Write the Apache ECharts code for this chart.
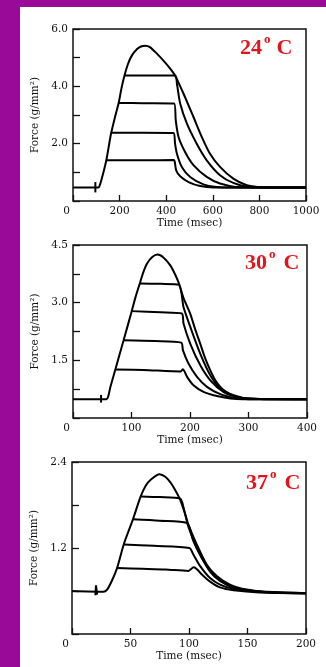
<!DOCTYPE html>
<html>
<head>
<meta charset="utf-8">
<script src="https://cdn.jsdelivr.net/npm/echarts@6/dist/echarts.min.js"></script>
<style>
  html, body { margin: 0; padding: 0; width: 326px; height: 667px; overflow: hidden; background: #990a99; }
  #panel { position: absolute; left: 20px; top: 7px; right: 0; bottom: 0; background: #ffffff; }
  #chart { position: absolute; left: 0; top: 0; width: 326px; height: 667px; }
</style>
</head>
<body>
<div id="panel"></div>
<div id="chart"></div>
<script>
// ---- 24 °C traces: [time (msec), force (g/mm²)] ----
const stim24 = [[96, 0.30], [96, 0.66]];
const full24 = [[0, 0.47], [110, 0.47], [115, 0.55], [120, 0.68], [131, 1.01], [143, 1.42], [153, 1.88], [164, 2.38],
  [180, 2.92], [196, 3.42], [208, 3.93], [221, 4.38], [236, 4.78], [253, 5.08], [275, 5.30], [292, 5.39], [310, 5.42],
  [330, 5.37], [360, 5.14], [390, 4.88], [417, 4.62], [438, 4.38], [474, 3.75], [517, 2.93], [553, 2.23], [588, 1.65],
  [631, 1.19], [688, 0.78], [746, 0.55], [803, 0.48], [860, 0.47], [1000, 0.47]];
const clamp24a = [[143, 1.42], [300, 1.42], [432, 1.43], [436, 1.40], [443, 1.07], [460, 0.86], [496, 0.66], [546, 0.52],
  [603, 0.47], [1000, 0.47]];
const clamp24b = [[164, 2.38], [300, 2.38], [431, 2.37], [438, 2.00], [446, 1.65], [467, 1.19], [503, 0.84], [560, 0.58],
  [617, 0.49], [680, 0.47], [1000, 0.47]];
const clamp24c = [[196, 3.42], [300, 3.41], [434, 3.40], [441, 2.81], [453, 2.23], [481, 1.71], [517, 1.25], [574, 0.84],
  [631, 0.61], [717, 0.48], [1000, 0.47]];
const clamp24d = [[221, 4.38], [300, 4.38], [438, 4.38], [446, 4.09], [460, 3.40], [489, 2.70], [531, 2.00], [574, 1.42],
  [631, 0.90], [688, 0.63], [760, 0.49], [1000, 0.47]];

// ---- 30 °C traces ----
const stim30 = [[48, 0.40], [48, 0.60]];
const full30 = [[0, 0.49], [57, 0.49], [60, 0.55], [64, 0.81], [72, 1.24], [79, 1.62], [86.5, 2.02], [100, 2.76],
  [107, 3.15], [114, 3.49], [120, 3.78], [126.4, 4.01], [135, 4.18], [144.7, 4.25], [155, 4.17], [166.3, 3.97],
  [175, 3.72], [181, 3.50], [189, 3.12], [200.5, 2.71], [209, 2.30], [217.6, 1.93], [226, 1.55], [234.7, 1.24],
  [243, 0.99], [251.8, 0.81], [262, 0.68], [274.6, 0.59], [290, 0.53], [303, 0.51], [330, 0.49], [400, 0.49]];
const clamp30a = [[72, 1.26], [120, 1.25], [184, 1.21], [188, 1.27], [191, 1.20], [195, 1.07], [206, 0.85], [223, 0.68],
  [246, 0.57], [269, 0.51], [290, 0.49], [400, 0.49]];
const clamp30b = [[86.5, 2.02], [140, 2.00], [185, 1.96], [188, 1.76], [197.6, 1.41], [212, 1.07], [229, 0.81],
  [251.8, 0.62], [274.6, 0.53], [300, 0.49], [400, 0.49]];
const clamp30c = [[100, 2.78], [150, 2.75], [186, 2.72], [189, 2.45], [200.5, 1.93], [217.6, 1.37], [234.7, 0.98],
  [257, 0.68], [280, 0.55], [305, 0.50], [400, 0.49]];
const clamp30d = [[114, 3.50], [150, 3.49], [180.5, 3.47], [189, 2.88], [200.5, 2.37], [217.6, 1.67], [234.7, 1.11],
  [251.8, 0.76], [274.6, 0.57], [300, 0.50], [400, 0.49]];

// ---- 37 °C traces ----
const stim37 = [[20, 0.54], [20.5, 0.68], [21.5, 0.55]];
const full37 = [[0, 0.60], [26.8, 0.59], [30, 0.62], [34, 0.74], [38.5, 0.92], [44.4, 1.26], [52.1, 1.60], [58.7, 1.92],
  [63, 2.07], [67.7, 2.16], [74.8, 2.23], [80, 2.19], [84.8, 2.10], [88.5, 2.00], [92.3, 1.88], [96, 1.71], [99.4, 1.53],
  [106.6, 1.25], [115.1, 0.97], [123.7, 0.81], [135, 0.69], [149.3, 0.62], [169, 0.58], [200, 0.57]];
const clamp37a = [[38.5, 0.92], [60, 0.91], [80, 0.90], [99.4, 0.88], [104, 0.93], [107, 0.90], [111, 0.83], [118, 0.73],
  [126.5, 0.65], [138, 0.61], [160, 0.58], [200, 0.57]];
const clamp37b = [[44.4, 1.25], [70, 1.23], [100.3, 1.20], [103.7, 1.11], [109.4, 0.95], [118, 0.78], [126.5, 0.69],
  [138, 0.63], [160, 0.59], [200, 0.57]];
const clamp37c = [[52.1, 1.60], [75, 1.58], [98, 1.55], [103.7, 1.30], [109.4, 1.11], [118, 0.87], [126.5, 0.74],
  [138, 0.65], [155, 0.60], [200, 0.57]];
const clamp37d = [[58.7, 1.92], [75, 1.91], [92.3, 1.89], [96, 1.72], [99.4, 1.50], [106.6, 1.20], [115, 0.95],
  [123.7, 0.78], [135, 0.67], [150, 0.61], [170, 0.58], [200, 0.57]];

// ---- axis tick labels ----
const yLabels24 = ['2.0', '4.0', '6.0'];
const yLabels30 = ['1.5', '3.0', '4.5'];
const yLabels37 = ['1.2', '2.4'];
const tempLabels = ['24', '30', '37'];

const SERIF = '"DejaVu Serif", "Liberation Serif", serif';
const INK = '#111';
const RED = '#e3141c';

const panels = [
  { grid: { left: 73, top: 29, width: 233, height: 172 }, xMax: 1000, xStep: 200, yMax: 6, yStep: 1, yLabels: yLabels24,
    traces: [full24, clamp24a, clamp24b, clamp24c, clamp24d], stim: stim24, tag: { num: 240, deg: 264, c: 276.5, cap: 41.7 } },
  { grid: { left: 73, top: 245, width: 234, height: 173 }, xMax: 400, xStep: 100, yMax: 4.5, yStep: 0.75, yLabels: yLabels30,
    traces: [full30, clamp30a, clamp30b, clamp30c, clamp30d], stim: stim30, tag: { num: 245, deg: 269, c: 283.5, cap: 256.7 } },
  { grid: { left: 72, top: 462, width: 234, height: 172 }, xMax: 200, xStep: 50, yMax: 2.4, yStep: 0.6, yLabels: yLabels37,
    traces: [full37, clamp37a, clamp37b, clamp37c, clamp37d], stim: stim37, tag: { num: 246, deg: 270, c: 284.5, cap: 476.3 } }
];

const labelFont = { fontFamily: SERIF, fontSize: 10.5, color: INK };

const option = {
  animation: false,
  backgroundColor: 'transparent',
  grid: panels.map(p => Object.assign({ show: true, borderColor: INK, borderWidth: 1.5, backgroundColor: 'transparent' }, p.grid)),
  xAxis: panels.map((p, i) => ({
    type: 'value', gridIndex: i, min: 0, max: p.xMax, interval: p.xStep,
    axisLine: { show: false },
    axisTick: { show: true, inside: true, length: 6, lineStyle: { color: INK, width: 1.3 } },
    splitLine: { show: false },
    axisLabel: Object.assign({
      margin: 5, alignMinLabel: 'right',
      formatter: v => (v === 0 ? '{z|0}' : String(v)),
      rich: { z: Object.assign({ padding: [0, 3, 0, 0] }, labelFont) }
    }, labelFont),
    name: 'Time (msec)', nameLocation: 'middle', nameGap: 16,
    nameTextStyle: labelFont
  })),
  yAxis: panels.map((p, i) => ({
    type: 'value', gridIndex: i, min: 0, max: p.yMax, interval: p.yStep,
    axisLine: { show: false },
    axisTick: { show: true, inside: true, length: 7, lineStyle: { color: INK, width: 1.3 } },
    splitLine: { show: false },
    axisLabel: Object.assign({
      margin: 5,
      formatter: v => (p.yLabels.indexOf(v.toFixed(1)) >= 0 ? v.toFixed(1) : '')
    }, labelFont),
    name: 'Force (g/mm²)', nameLocation: 'middle', nameGap: 29, nameRotate: 90,
    nameTextStyle: labelFont
  })),
  series: [],
  graphic: { elements: [] }
};

const tagFont = '"Liberation Serif", "Times New Roman", serif';

panels.forEach((p, i) => {
  p.traces.forEach(tr => {
    option.series.push({
      type: 'line', xAxisIndex: i, yAxisIndex: i, data: tr,
      showSymbol: false, smooth: 0.25,
      lineStyle: { color: '#000', width: 2 }
    });
  });
  option.series.push({
    type: 'line', xAxisIndex: i, yAxisIndex: i, data: p.stim,
    showSymbol: false, lineStyle: { color: '#000', width: 2 }
  });
  // temperature tag: number, raised "o", then "C"
  const big = { fontFamily: tagFont, fontWeight: 'bold', fontSize: 22, lineHeight: 22, fill: RED };
  const small = { fontFamily: tagFont, fontWeight: 'bold', fontSize: 13, lineHeight: 13, fill: RED };
  option.graphic.elements.push(
    { type: 'text', left: p.tag.num, top: p.tag.cap - 4, z: 10, style: Object.assign({ text: tempLabels[i] }, big) },
    { type: 'text', left: p.tag.deg, top: p.tag.cap - 8.5, z: 10, style: Object.assign({ text: 'o' }, small) },
    { type: 'text', left: p.tag.c, top: p.tag.cap - 4, z: 10, style: Object.assign({ text: 'C' }, big) }
  );
});

const chart = echarts.init(document.getElementById('chart'), null, { renderer: 'canvas' });
chart.setOption(option);
</script>
</body>
</html>
